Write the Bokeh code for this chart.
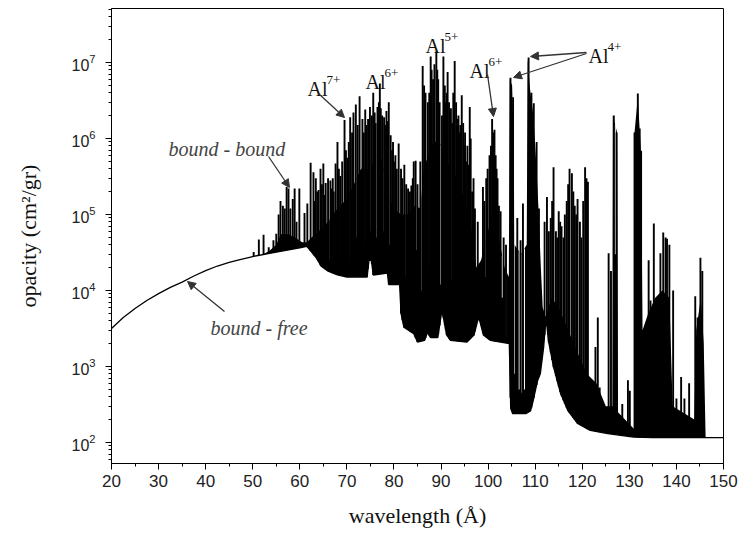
import numpy as np
from bokeh.plotting import figure
from bokeh.models import Range1d, FixedTicker, Label, Arrow, NormalHead
from bokeh.embed import file_html
from bokeh.resources import INLINE

# ---------------- data ----------------
# lower envelope (continuum / line wings), wavelength in Angstrom, opacity cm^2/gr
cont_wl = [20, 22.5, 25, 27.5, 30, 32.5, 35, 37.5, 40, 42.5, 45, 47.5, 50, 55, 60, 61.5,
           62.5, 63.5, 64.5, 66, 68, 70,
           74.3, 74.7, 75.2, 75.6, 78.6, 78.9, 81.2, 81.5, 82.1, 84.2, 85.0, 86.5,
           87.1, 87.8, 89.3, 90.2, 91.2, 92.0, 95.5, 97.0, 98.0, 99.0, 100.5, 104.5,
           104.8, 105.2, 108.0, 109.0, 109.6, 110.5, 111.1, 111.8, 112.3, 112.8,
           113.9, 115.4, 116.9, 119.0, 121.7, 125.4, 130.9, 135.0, 150.0]
cont_op = [3.16e3, 4.4e3, 5.8e3, 7.4e3, 9.1e3, 1.1e4, 1.29e4, 1.55e4, 1.83e4, 2.1e4,
           2.34e4, 2.57e4, 2.8e4, 3.19e4, 3.65e4, 3.8e4,
           3.2e4, 2.7e4, 2.1e4, 1.8e4, 1.6e4, 1.5e4,
           1.5e4, 2.5e4, 2.5e4, 1.6e4, 1.7e4, 1.2e4, 1.2e4, 5.0e3, 3.3e3, 2.7e3, 2.1e3, 2.2e3,
           2.8e3, 2.4e3, 2.4e3, 5.5e3, 2.6e3, 2.2e3, 2.1e3, 2.6e3, 4.5e3, 2.6e3, 2.2e3, 2.0e3,
           2.8e2, 2.4e2, 2.4e2, 2.6e2, 3.6e2, 6.5e2, 8.1e2, 1.8e3, 4.5e3, 2.2e3,
           9.8e2, 4.4e2, 2.65e2, 1.78e2, 1.44e2, 1.31e2, 1.18e2, 1.16e2, 1.16e2]

# upper edge of the solid, blended part of the line band
band_wl = [52.0, 53.5, 55.0, 56.0, 57.5, 59.0, 60.5, 61.5, 62.5, 64.0, 66.0, 68.0, 70.0,
           71.5, 73.0, 75.0, 76.5, 77.5, 78.5, 80.0, 81.5, 83.0, 84.5, 85.6, 86.3, 88.0,
           89.5, 90.5, 92.0, 93.5, 95.0, 96.5, 97.5, 98.5, 100.0, 101.0, 102.0, 103.5,
           104.4, 104.6, 105.1, 105.4, 105.6, 107.0, 108.2, 108.4, 108.9, 109.6, 110.2,
           110.7, 111.2, 111.6, 112.2, 113.5, 115.0, 117.0, 119.0, 121.0, 123.0, 125.0,
           126.4, 126.5, 127.4, 127.6, 131.0, 131.1, 131.8, 132.5, 132.8, 134.0, 135.5,
           137.0, 138.5, 139.2, 143.8, 144.2, 145.2, 145.8, 146.2]
band_top = [2.9e4, 3.3e4, 4.0e4, 5.5e4, 5.5e4, 5.0e4, 4.3e4, 4.3e4, 5.0e4, 6.0e4, 8.0e4,
            1.2e5, 1.6e5, 2.5e5, 4.0e5, 4.0e5, 6.0e5, 5.0e5, 2.0e5, 1.2e5, 1.0e5, 1.0e5,
            1.3e5, 1.2e5, 4.0e5, 8.0e5, 1.0e6, 6.0e5, 4.0e5, 3.0e5, 1.5e5, 6.0e4, 2.0e4,
            2.5e4, 6.0e4, 1.2e5, 6.0e4, 2.0e4, 1.5e4, 6.0e6, 5.0e6, 1.0e6, 4.0e4, 3.0e4,
            4.0e4, 1.1e7, 4.5e6, 2.0e6, 5.0e5, 1.2e5, 2.0e4, 6.0e3, 4.5e3, 8.0e3, 6.0e3,
            3.0e3, 1.5e3, 8.0e2, 6.0e2, 3.0e2, 3.0e2, 2.0e6, 1.2e6, 2.5e2, 1.5e2, 1.2e6,
            3.5e6, 6.0e5, 3.0e3, 5.0e3, 8.0e3, 1.0e4, 8.0e3, 3.0e2, 2.0e2, 3.0e3, 8.0e3,
            2.0e3, 1.16e2]

# narrow white gaps that cut down into the band (wavelength, lowest opacity reached)
gap_wl = [63.9, 66.5, 68.6, 70.4, 72.0, 73.9, 75.0, 76.3, 77.8, 79.0, 80.5, 82.6, 84.8,
          86.0, 87.5, 89.9, 92.2, 93.8, 95.2, 96.0, 99.5, 101.6, 103.0, 103.8, 105.5,
          106.6, 107.0, 107.7, 127.0]
gap_low = [3.0e4, 2.5e4, 3.0e4, 2.5e4, 5.0e4, 4.0e4, 6.0e4, 5.0e4, 6.0e4, 4.0e4, 2.9e4,
           1.5e4, 3.4e4, 1.0e4, 2.0e4, 1.2e4, 1.4e4, 4.2e4, 8.0e4, 3.0e4, 1.5e4, 1.1e4,
           8.0e3, 2.4e3, 8.0e2, 5.0e2, 4.5e2, 5.0e2, 3.0e4]

# individual bound-bound line peaks
line_wl = [50.2, 51.3, 52.3, 53.4, 54.4, 55.0, 55.5, 55.9, 56.4, 56.8, 57.2, 57.6, 58.0,
           58.5, 58.9, 59.3, 59.9, 61.0, 61.6, 62.3, 62.9, 63.1, 63.4, 63.7, 64.0, 64.4,
           64.7, 65.0, 65.3, 65.5, 66.0, 66.5, 66.8, 67.0, 67.2, 67.6, 68.0, 68.3, 68.6,
           69.0, 69.5, 69.8, 70.1, 70.4, 70.7, 71.1, 71.4, 71.9, 72.3, 72.7, 73.3, 73.6,
           73.9, 74.2, 74.5, 74.9, 75.3, 75.6, 75.9, 76.1, 76.5, 76.8, 77.0, 77.2, 77.5,
           77.9, 78.1, 78.4, 78.6, 78.9, 79.3, 79.6, 79.8, 80.0, 80.3, 80.6, 81.0, 81.5,
           81.8, 82.2, 82.6, 83.0, 83.4, 83.7, 84.0, 84.2, 84.6, 85.0, 85.6, 86.1, 86.4,
           86.7, 87.2, 87.5, 87.8, 88.0, 88.3, 88.6, 89.0, 89.2, 89.4, 89.7, 90.2, 90.5,
           90.8, 91.0, 91.2, 91.4, 91.7, 91.9, 92.1, 92.4, 92.6, 92.9, 93.2, 93.4, 93.7,
           93.9, 94.1, 94.4, 94.7, 94.9, 95.1, 95.3, 95.6, 95.8, 96.1, 96.3, 96.6, 96.9,
           97.2, 97.8, 98.9, 99.2, 99.6, 99.9, 100.3, 100.6, 100.85, 101.1, 101.35, 101.6,
           101.8, 102.0, 102.3, 102.65, 103.3, 103.8, 104.75, 105.3, 106.2, 106.9, 107.4,
           108.6, 109.2, 109.7, 110.3, 110.8, 112.0, 112.5, 112.9, 113.3, 113.6, 113.9,
           114.4, 114.7, 115.0, 115.3, 115.6, 116.0, 116.3, 116.7, 117.0, 117.3, 117.8,
           118.1, 118.4, 118.7, 119.0, 119.5, 119.8, 120.2, 120.6, 120.9, 121.2, 121.7,
           122.8, 123.3, 123.7, 125.6, 126.1, 126.7, 127.3, 128.5, 129.7, 130.1, 131.1,
           131.8, 132.2, 132.5, 132.9, 133.4, 133.8, 134.1, 134.5, 135.2, 135.9, 136.6,
           137.2, 137.7, 138.0, 138.5, 139.3, 140.0, 141.0, 141.7, 142.7, 144.0, 144.5,
           145.1, 145.5]
line_op = [3.2e4, 4.7e4, 5.4e4, 3.7e4, 4.6e4, 5.6e4, 1.0e5, 1.5e5, 1.3e5, 1.2e5, 2.3e5,
           2.2e5, 1.2e5, 1.6e5, 2.2e5, 8.0e4, 2.2e5, 1.05e5, 1.4e5, 4.8e5, 3.6e5, 1.5e5,
           3.0e5, 2.0e5, 2.1e5, 4.0e5, 2.5e5, 4.7e5, 1.8e5, 2.6e5, 3.0e5, 2.8e5, 2.2e5,
           3.0e5, 2.0e5, 4.7e5, 9.0e5, 4.0e5, 3.2e5, 5.0e5, 1.75e6, 7.0e5, 5.6e5, 9.0e5,
           1.9e6, 1.2e6, 2.2e6, 2.8e6, 1.5e6, 3.6e6, 1.8e6, 1.2e6, 2.4e6, 1.5e6, 1.8e6,
           2.6e6, 2.0e6, 4.0e6, 2.2e6, 1.6e6, 2.6e6, 3.0e6, 5.3e6, 2.5e6, 2.0e6, 1.9e6,
           1.5e6, 2.3e6, 1.7e6, 3.0e6, 1.1e6, 7.0e5, 9.0e5, 5.0e5, 6.0e5, 4.0e5, 8.6e5,
           4.0e5, 3.0e5, 4.5e5, 2.5e5, 2.2e5, 2.0e5, 2.4e5, 3.0e5, 5.0e5, 5.1e5, 2.5e5,
           5.0e5, 9.0e6, 5.0e6, 4.0e6, 3.0e6, 4.0e6, 1.2e7, 8.0e6, 6.0e6, 9.5e6, 1.4e7,
           8.0e6, 6.0e6, 3.0e6, 2.0e6, 1.2e7, 5.0e6, 3.0e6, 4.0e6, 7.5e6, 3.0e6, 2.0e6,
           2.5e6, 1.6e6, 4.0e6, 1.05e7, 3.0e6, 1.8e6, 2.0e6, 1.2e6, 1.5e6, 3.7e6, 1.6e6,
           8.0e5, 1.2e6, 5.0e5, 8.0e5, 4.5e5, 2.6e6, 1.0e6, 2.0e5, 3.0e5, 1.2e5, 8.0e4,
           2.3e5, 1.5e5, 3.0e5, 4.0e5, 6.0e5, 8.0e5, 1.8e6, 1.2e6, 1.3e6, 6.0e5, 4.0e5,
           3.0e5, 1.3e5, 1.1e5, 5.0e4, 4.0e4, 6.3e6, 3.5e6, 9.0e4, 4.6e4, 1.4e5, 1.16e7,
           4.0e6, 2.9e6, 9.0e5, 1.2e5, 8.0e4, 1.7e5, 6.0e4, 9.0e4, 1.5e5, 4.2e5, 6.0e4,
           5.0e4, 1.1e5, 8.0e4, 7.0e4, 5.0e4, 1.0e5, 1.5e5, 2.5e5, 4.0e5, 3.5e5, 2.0e5,
           1.3e5, 1.0e5, 1.6e5, 8.0e4, 5.0e4, 1.5e5, 4.2e5, 3.0e5, 2.7e5, 6.6e2, 1.8e3,
           4.4e3, 5.3e2, 3.1e4, 1.8e4, 2.0e6, 1.2e6, 3.2e2, 6.6e2, 4.8e2, 1.2e6, 3.9e6,
           1.35e6, 6.9e5, 2.0e3, 3.3e3, 8.0e2, 2.5e4, 7.4e3, 7.6e4, 4.4e3, 3.1e4, 5.8e4,
           5.0e4, 4.8e4, 4.0e4, 1.0e4, 3.8e2, 7.3e2, 3.8e2, 6.0e2, 8.4e3, 4.4e3, 2.7e4,
           1.8e4]

x_ticks = list(range(20, 151, 10))
x_minor = list(range(25, 150, 10))
y_exponents = [2, 3, 4, 5, 6, 7]

# ---------------- figure ----------------
X_MIN, X_MAX = 20, 150
Y_MIN, Y_MAX = 10 ** (7 - 401 / 76), 10 ** (7 + 54 / 76)

p = figure(width=740, height=538, y_axis_type="log", output_backend="svg",
           toolbar_location=None, x_range=Range1d(X_MIN, X_MAX),
           y_range=Range1d(Y_MIN, Y_MAX),
           min_border_left=111, min_border_right=17, min_border_top=8,
           min_border_bottom=75)
p.xgrid.visible = False
p.ygrid.visible = False
p.outline_line_color = "black"
p.outline_line_width = 1
p.background_fill_color = "white"
p.border_fill_color = "white"


def log_interp(x, xp, fp):
    return 10 ** np.interp(x, xp, np.log10(fp))


# solid band between the lower envelope and the band's top edge
grid = np.union1d(cont_wl, band_wl)
grid = grid[(grid >= band_wl[0]) & (grid <= band_wl[-1])]
band_bot = log_interp(grid, cont_wl, cont_op)
band_up = np.maximum(log_interp(grid, band_wl, band_top), band_bot)
p.varea(x=grid, y1=band_bot, y2=band_up, fill_color="black")

# white gaps cut into the band
gap_top = log_interp(gap_wl, band_wl, band_top)
p.segment(x0=gap_wl, y0=gap_low, x1=gap_wl, y1=gap_top, line_color="white",
          line_width=1.2)

# individual lines rising from the envelope
base = log_interp(line_wl, cont_wl, cont_op)
p.segment(x0=line_wl, y0=base, x1=line_wl, y1=line_op, line_color="black",
          line_width=1.9)

# continuum
p.line(cont_wl, cont_op, line_color="black", line_width=1.3)

# ---------------- axes ----------------
xa = p.xaxis[0]
xa.ticker = FixedTicker(ticks=x_ticks, minor_ticks=x_minor)
xa.major_tick_out = 6
xa.major_tick_in = 0
xa.minor_tick_out = 3
xa.minor_tick_in = 0
xa.major_label_standoff = 5
xa.major_label_text_font = "Liberation Sans"
xa.major_label_text_font_size = "17px"
xa.major_label_text_color = "#222222"
xa.axis_line_color = "black"
xa.axis_label = "wavelength (Å)"
xa.axis_label_text_font = "Liberation Serif"
xa.axis_label_text_font_style = "normal"
xa.axis_label_text_font_size = "22px"
xa.axis_label_text_color = "#111111"
xa.axis_label_standoff = 13

ya = p.yaxis[0]
y_major = [10.0 ** e for e in y_exponents]
y_minor = [k * 10.0 ** e for e in range(1, 8) for k in range(2, 10)
           if Y_MIN <= k * 10.0 ** e <= Y_MAX]
ya.ticker = FixedTicker(ticks=y_major, minor_ticks=y_minor)
ya.major_tick_out = 6
ya.major_tick_in = 0
ya.minor_tick_out = 3
ya.minor_tick_in = 0
ya.major_label_standoff = 10
ya.major_label_text_font = "Liberation Sans"
ya.major_label_text_font_size = "16px"
ya.major_label_text_color = "#222222"
ya.axis_line_color = "black"
ya.axis_label = "opacity (cm²/gr)"
ya.axis_label_text_font = "Liberation Serif"
ya.axis_label_text_font_style = "normal"
ya.axis_label_text_font_size = "22px"
ya.axis_label_text_color = "#111111"
ya.axis_label_standoff = 27


# pixel position helpers (reference layout -> data coordinates)
def dx(px):
    return X_MIN + (px - 111) * (X_MAX - X_MIN) / 612.0


def dy(py):
    return 10 ** (7 - (py - 62) / 76.0)


SERIF = "Liberation Serif"


def ion(px, py, charge):
    p.add_layout(Label(x=dx(px), y=dy(py), text="Al", text_font=SERIF,
                       text_font_size="20px", text_color="#111111",
                       text_baseline="alphabetic"))
    p.add_layout(Label(x=dx(px + 19), y=dy(py - 9), text=charge, text_font=SERIF,
                       text_font_size="13px", text_color="#111111",
                       text_baseline="alphabetic"))


ion(307, 88, "7+")
ion(365, 81, "6+")
ion(425, 45, "5+")
ion(469, 70, "6+")
ion(588, 55, "4+")

for txt, px, py in [("bound - bound", 168, 148), ("bound - free", 210, 327)]:
    p.add_layout(Label(x=dx(px), y=dy(py), text=txt, text_font=SERIF,
                       text_font_style="italic", text_font_size="20px",
                       text_color="#444444", text_baseline="alphabetic"))

arrows = [((318, 93), (344, 117)),
          ((487, 74), (493, 116)),
          ((586, 52), (530, 56)),
          ((586, 53), (513, 77)),
          ((268, 156), (289, 187)),
          ((224, 311), (187, 281))]
for (x0, y0), (x1, y1) in arrows:
    p.add_layout(Arrow(x_start=dx(x0), y_start=dy(y0), x_end=dx(x1), y_end=dy(y1),
                       line_color="#333333", line_width=1.3,
                       end=NormalHead(size=8, fill_color="#333333",
                                      line_color="#333333")))

open("out.html", "w").write(file_html(p, INLINE))
